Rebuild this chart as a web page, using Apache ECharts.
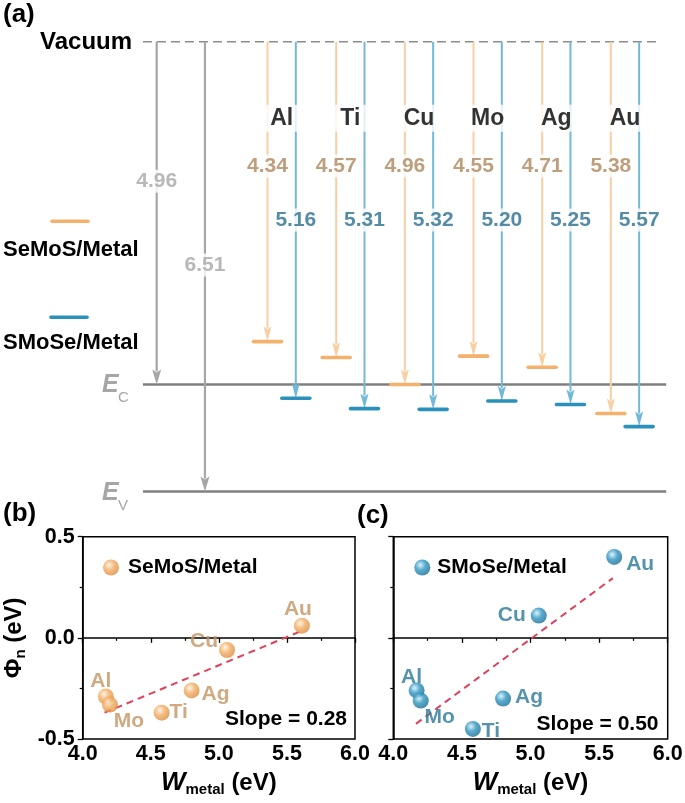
<!DOCTYPE html>
<html><head><meta charset="utf-8">
<script src="https://cdn.jsdelivr.net/npm/echarts/dist/echarts.min.js"></script>
<style>html,body{margin:0;padding:0;background:#fff}#c{width:685px;height:803px}</style>
</head><body><div id="c"></div>
<script>
// ---------- data ----------
const metals = ['Al', 'Ti', 'Cu', 'Mo', 'Ag', 'Au'];
const semosLevel = [4.34, 4.57, 4.96, 4.55, 4.71, 5.38];   // SeMoS/Metal (eV below vacuum)
const smoseLevel = [5.16, 5.31, 5.32, 5.20, 5.25, 5.57];   // SMoSe/Metal
const ecDepth = 4.96;
const evDepth = 6.51;
const wMetal = [4.17, 4.58, 5.06, 4.20, 4.80, 5.61];
const phiSeMoS = [-0.29, -0.37, -0.06, -0.33, -0.26, 0.06];
const phiSMoSe = [-0.26, -0.45, 0.11, -0.31, -0.30, 0.40];
const fitSeMoS = [[4.16, -0.37], [5.61, 0.035]];
const fitSMoSe = [[4.165, -0.425], [5.60, 0.295]];
const slopeLabels = ['Slope = 0.28', 'Slope = 0.50'];
const seriesNames = ['SeMoS/Metal', 'SMoSe/Metal'];

// ---------- styles / layout ----------
const FF = '"Liberation Sans", Arial, Helvetica, sans-serif';
const ORANGE_ARROW = '#f8cfa3', ORANGE_BAR = '#f3b16b', ORANGE_TXT = '#ad875c';
const BLUE_ARROW = '#72b9d7', BLUE_BAR = '#2a91bb', BLUE_TXT = '#2a6f8f';
const GRAY = '#a6a6a6', LEVEL = '#7f7f7f';
const PT_ORANGE_TXT = '#c39461', PT_BLUE_TXT = '#2a7899';
const DX = 0.206; // half spacing between the two arrows of a metal
const offB = [[-5, -15], [17, 0], [-23, -9], [19, 17], [24, 4], [-4, -17]];
const offC = [[-5, -13], [18, 2], [-27, 0], [19, 17], [26, -1], [26, 7]];

function arrowRender(color, lw, hw, hl) {
  return function (params, api) {
    const x = api.value(0), y0 = api.value(1), y1 = api.value(2);
    const p0 = api.coord([x, y0]), p1 = api.coord([x, y1]);
    return {
      type: 'group', children: [
        { type: 'line', shape: { x1: p0[0], y1: p0[1], x2: p1[0], y2: p1[1] - hl + 2 }, style: { stroke: color, lineWidth: lw } },
        { type: 'polygon', shape: { points: [[p1[0] - hw / 2, p1[1] - hl], [p1[0], p1[1] - hl + 3], [p1[0] + hw / 2, p1[1] - hl], [p1[0], p1[1]]] }, style: { fill: color } }
      ]
    };
  };
}
function barRender(color) {
  return function (params, api) {
    const c = api.coord([api.value(0), api.value(1)]);
    return { type: 'line', shape: { x1: c[0] - 14, y1: c[1], x2: c[0] + 14, y2: c[1] }, style: { stroke: color, lineWidth: 3.6, lineCap: 'round' } };
  };
}
function hlineRender(color, lw, dash) {
  return function (params, api) {
    const a = api.coord([api.value(0), api.value(2)]), b = api.coord([api.value(1), api.value(2)]);
    return { type: 'line', shape: { x1: a[0], y1: a[1], x2: b[0], y2: b[1] }, style: { stroke: color, lineWidth: lw, lineDash: dash } };
  };
}
function txtItem(x, y, text, color, extra) {
  return {
    value: [x, y],
    label: Object.assign({
      show: true, position: 'inside', formatter: text, color: color,
      fontFamily: FF, fontWeight: 'bold', fontSize: 21,
      backgroundColor: '#fff', padding: [1, 2]
    }, extra || {})
  };
}

const labelData = [];
metals.forEach((m, i) => {
  labelData.push(txtItem(i, -1.108, m, '#000', { width: 32, align: 'center', padding: [2, 2], fontSize: 23 }));
  labelData.push(txtItem(i - DX, -1.80, semosLevel[i].toFixed(2), ORANGE_TXT));
  labelData.push(txtItem(i + DX, -2.58, smoseLevel[i].toFixed(2), BLUE_TXT));
});
labelData.push(txtItem(-1.82, -2.02, ecDepth.toFixed(2), GRAY));
labelData.push(txtItem(-1.117, -3.23, evDepth.toFixed(2), GRAY));

function sphere(base, light, dark) {
  return { type: 'radial', x: 0.38, y: 0.35, r: 0.7, colorStops: [
    { offset: 0, color: light }, { offset: 0.45, color: base }, { offset: 1, color: dark }] };
}
const sphO = sphere('#f2ad63', '#fff1df', '#d98a3c');
const sphB = sphere('#2f97c2', '#d6eff9', '#1a6a90');

function scatterData(phi, offs) {
  return wMetal.map((w, i) => ({ value: [w, phi[i]], label: { offset: offs[i], formatter: metals[i] } }));
}

const axisFont = { fontFamily: FF, fontWeight: 'bold', fontSize: 21.5, color: '#000' };
function xAx(gi) {
  return {
    gridIndex: gi, type: 'value', min: 4, max: 6, interval: 0.5,
    axisLine: { show: true, lineStyle: { color: '#000', width: 1.5 } },
    axisTick: { show: true, length: 5, lineStyle: { color: '#000', width: 1.3 } },
    minorTick: { show: true, splitNumber: 2, length: 3, lineStyle: { color: '#000', width: 1.2 } },
    splitLine: { show: false },
    axisLabel: Object.assign({ margin: 4, formatter: v => v.toFixed(1) }, axisFont),
    name: '{w|W}{s|metal}{e| (eV)}', nameLocation: 'middle', nameGap: 30,
    nameTextStyle: { rich: {
      w: { fontFamily: FF, fontSize: 26, fontWeight: 'bold', fontStyle: 'italic', color: '#000', lineHeight: 28 },
      s: { fontFamily: FF, fontSize: 15, fontWeight: 'bold', color: '#000', verticalAlign: 'bottom', lineHeight: 16 },
      e: { fontFamily: FF, fontSize: 24, fontWeight: 'bold', color: '#000', lineHeight: 28 } } }
  };
}
function yAx(gi, showLabel) {
  const ax = {
    gridIndex: gi, type: 'value', min: -0.5, max: 0.5, interval: 0.5,
    axisLine: { show: true, lineStyle: { color: '#000', width: 1.5 } },
    axisTick: { show: true, length: 5, lineStyle: { color: '#000', width: 1.3 } },
    minorTick: { show: true, splitNumber: 2, length: 3, lineStyle: { color: '#000', width: 1.2 } },
    splitLine: { show: false },
    axisLabel: Object.assign({ show: showLabel, margin: 8, formatter: v => v.toFixed(1) }, axisFont)
  };
  if (showLabel) {
    ax.name = '{p|Φ}{s|n}{e| (eV)}';
    ax.nameLocation = 'middle';
    ax.nameGap = 54;
    ax.nameTextStyle = { rich: {
      p: { fontFamily: FF, fontSize: 24, fontWeight: 'bold', color: '#000', lineHeight: 28 },
      s: { fontFamily: FF, fontSize: 15, fontWeight: 'bold', color: '#000', verticalAlign: 'bottom', lineHeight: 16 },
      e: { fontFamily: FF, fontSize: 24, fontWeight: 'bold', color: '#000', lineHeight: 28 } } };
  }
  return ax;
}
function ptSeries(name, gi, phi, offs, color, txtColor) {
  return {
    name: name, type: 'scatter', xAxisIndex: gi, yAxisIndex: gi, z: 5,
    symbolSize: 16, itemStyle: { color: color },
    label: { show: true, position: 'inside', fontFamily: FF, fontWeight: 'bold', fontSize: 21, color: txtColor },
    data: scatterData(phi, offs)
  };
}
function fitSeries(gi, pts) {
  return {
    type: 'line', xAxisIndex: gi, yAxisIndex: gi, z: 3, showSymbol: false, symbol: 'none',
    lineStyle: { color: '#e0405a', width: 2, type: [7, 5] }, data: pts
  };
}

const option = {
  animation: false,
  backgroundColor: '#fff',
  grid: [
    { left: 130.6, top: 41.7, width: 535.6, height: 456.1, outerBoundsMode: 'none' },
    { left: 82.7, top: 536.7, width: 272.3, height: 202.3, show: true, borderColor: '#000', borderWidth: 1.5, backgroundColor: 'transparent', outerBoundsMode: 'none' },
    { left: 393.3, top: 536.7, width: 274.4, height: 202.3, show: true, borderColor: '#000', borderWidth: 1.5, backgroundColor: 'transparent', outerBoundsMode: 'none' }
  ],
  xAxis: [
    { gridIndex: 0, type: 'value', min: -2.2, max: 5.6, show: false },
    xAx(1), xAx(2)
  ],
  yAxis: [
    { gridIndex: 0, type: 'value', min: -6.6, max: 0, show: false },
    yAx(1, true), yAx(2, false)
  ],
  legend: [
    { data: [seriesNames[0]], left: 103, top: 557, padding: 0, icon: 'circle', itemWidth: 16, itemHeight: 16,
      textStyle: { fontFamily: FF, fontWeight: 'bold', fontSize: 21, color: '#000', padding: [0, 0, 0, 4] } },
    { data: [seriesNames[1]], left: 414.3, top: 557, padding: 0, icon: 'circle', itemWidth: 16, itemHeight: 16,
      textStyle: { fontFamily: FF, fontWeight: 'bold', fontSize: 21, color: '#000', padding: [0, 0, 0, 2] } }
  ],
  series: [
    { type: 'custom', xAxisIndex: 0, yAxisIndex: 0, z: 1, renderItem: hlineRender('#8c8c8c', 1.5, [9, 5]), data: [[-2.02, 5.51, 0]] },
    { type: 'custom', xAxisIndex: 0, yAxisIndex: 0, z: 1, renderItem: hlineRender(LEVEL, 2.5, null), data: [[-2.02, 5.6, -ecDepth], [-2.02, 5.6, -evDepth]] },
    { type: 'custom', xAxisIndex: 0, yAxisIndex: 0, z: 2, renderItem: arrowRender(GRAY, 2.2, 9, 15), data: [[-1.82, 0, -ecDepth], [-1.117, 0, -evDepth]] },
    { type: 'custom', xAxisIndex: 0, yAxisIndex: 0, z: 2, renderItem: arrowRender(ORANGE_ARROW, 2, 8, 15), data: metals.map((m, i) => [i - DX, 0, -semosLevel[i]]) },
    { type: 'custom', xAxisIndex: 0, yAxisIndex: 0, z: 2, renderItem: arrowRender(BLUE_ARROW, 2, 8, 15), data: metals.map((m, i) => [i + DX, 0, -smoseLevel[i]]) },
    { type: 'custom', xAxisIndex: 0, yAxisIndex: 0, z: 3, renderItem: barRender(ORANGE_BAR), data: metals.map((m, i) => [i - DX, -semosLevel[i]]) },
    { type: 'custom', xAxisIndex: 0, yAxisIndex: 0, z: 3, renderItem: barRender(BLUE_BAR), data: metals.map((m, i) => [i + DX, -smoseLevel[i]]) },
    { type: 'scatter', xAxisIndex: 0, yAxisIndex: 0, z: 6, symbolSize: 1, itemStyle: { color: 'rgba(0,0,0,0)' }, silent: true, data: labelData },
    fitSeries(1, fitSeMoS), fitSeries(2, fitSMoSe),
    ptSeries(seriesNames[0], 1, phiSeMoS, offB, sphO, PT_ORANGE_TXT),
    ptSeries(seriesNames[1], 2, phiSMoSe, offC, sphB, PT_BLUE_TXT)
  ],
  graphic: [
    { type: 'text', left: 3, top: 2, style: { text: '(a)', font: 'bold 26px ' + FF, fill: '#000' } },
    { type: 'text', left: 3, top: 501, style: { text: '(b)', font: 'bold 26px ' + FF, fill: '#000' } },
    { type: 'text', left: 357, top: 503, style: { text: '(c)', font: 'bold 26px ' + FF, fill: '#000' } },
    { type: 'text', x: 40, y: 42, style: { text: 'Vacuum', font: 'bold 24px ' + FF, fill: '#000', verticalAlign: 'middle' } },
    { type: 'line', shape: { x1: 52, y1: 221.3, x2: 88, y2: 221.3 }, style: { stroke: ORANGE_BAR, lineWidth: 3.6, lineCap: 'round' } },
    { type: 'text', x: 3, y: 249.5, style: { text: seriesNames[0], font: 'bold 22px ' + FF, fill: '#000', verticalAlign: 'middle' } },
    { type: 'line', shape: { x1: 51, y1: 317.3, x2: 87, y2: 317.3 }, style: { stroke: BLUE_BAR, lineWidth: 3.6, lineCap: 'round' } },
    { type: 'text', x: 3, y: 343, style: { text: seriesNames[1], font: 'bold 22px ' + FF, fill: '#000', verticalAlign: 'middle' } },
    { type: 'text', x: 102, y: 385.5, style: { text: 'E', font: 'italic bold 25px ' + FF, fill: GRAY, verticalAlign: 'middle' } },
    { type: 'text', x: 118, y: 398, style: { text: 'C', font: '15px ' + FF, fill: GRAY, verticalAlign: 'middle' } },
    { type: 'text', x: 102, y: 493.5, style: { text: 'E', font: 'italic bold 25px ' + FF, fill: GRAY, verticalAlign: 'middle' } },
    { type: 'text', x: 118, y: 506, style: { text: 'V', font: '15px ' + FF, fill: GRAY, verticalAlign: 'middle' } },
    { type: 'text', x: 347, y: 719, style: { text: slopeLabels[0], font: 'bold 21px ' + FF, fill: '#000', align: 'right', verticalAlign: 'middle' } },
    { type: 'text', x: 658.5, y: 724, style: { text: slopeLabels[1], font: 'bold 21px ' + FF, fill: '#000', align: 'right', verticalAlign: 'middle' } }
  ]
};
const chart = echarts.init(document.getElementById('c'), null, { renderer: 'canvas' });
chart.setOption(option);
</script></body></html>
